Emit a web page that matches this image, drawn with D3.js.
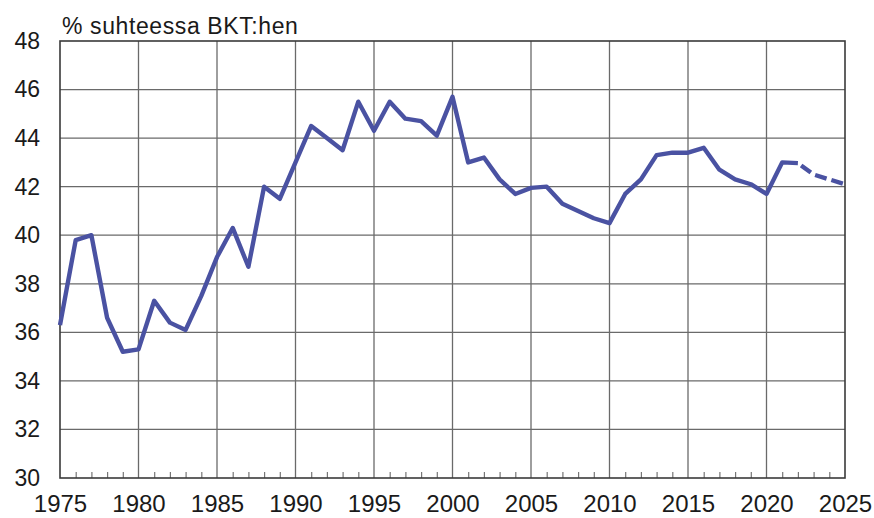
<!DOCTYPE html>
<html><head><meta charset="utf-8">
<script src="https://cdn.jsdelivr.net/npm/d3@7"></script>
<style>body{margin:0;background:#fff}svg{display:block}text{font-family:"Liberation Sans",Arial,sans-serif;fill:#1a1a1a}</style>
</head><body><svg id="c" width="874" height="518"></svg>
<script>
const years = d3.range(1975, 2026);
const values = [36.3,39.8,40.0,36.6,35.2,35.3,37.3,36.4,36.1,37.5,
  39.1,40.3,38.7,42.0,41.5,43.0,44.5,44.0,43.5,45.5,
  44.3,45.5,44.8,44.7,44.1,45.7,43.0,43.2,42.3,41.7,
  41.95,42.0,41.3,41.0,40.7,40.5,41.7,42.3,43.3,43.4,
  43.4,43.6,42.7,42.3,42.1,41.7,43.0,42.97,42.5,42.3,42.1];
const forecastStart = 2022;
const yTicks = [30,32,34,36,38,40,42,44,46,48];
const xTicks = [1975,1980,1985,1990,1995,2000,2005,2010,2015,2020,2025];
const title = "% suhteessa BKT:hen";

const data = years.map((y,i)=>({year:y, v:values[i]}));
const m = {l:60, r:845, t:41, b:478};
const svg = d3.select("#c");
const x = d3.scaleLinear().domain([1975,2025]).range([m.l,m.r]);
const y = d3.scaleLinear().domain([30,48]).range([m.b,m.t]);

// gridlines
svg.append("g").selectAll("line").data(yTicks.slice(1,-1)).join("line")
  .attr("x1",m.l).attr("x2",m.r).attr("y1",d=>y(d)).attr("y2",d=>y(d))
  .attr("stroke","#6a6a6a").attr("stroke-width",1.3);
svg.append("g").selectAll("line").data(xTicks.slice(1,-1)).join("line")
  .attr("y1",m.t).attr("y2",m.b).attr("x1",d=>x(d)).attr("x2",d=>x(d))
  .attr("stroke","#6a6a6a").attr("stroke-width",1.3);

// minor ticks along bottom
const minor = years.filter(d=>d%5!==0);
const xMinor = d3.axisBottom(x).tickValues(minor).tickSize(-6).tickFormat("");
svg.append("g").attr("transform",`translate(0,${m.b})`).call(xMinor)
  .call(g=>g.select(".domain").remove())
  .call(g=>g.selectAll("line").attr("stroke","#777").attr("stroke-width",1.2));

// frame
svg.append("rect").attr("x",m.l).attr("y",m.t).attr("width",m.r-m.l).attr("height",m.b-m.t)
  .attr("fill","none").attr("stroke","#3a3a3a").attr("stroke-width",1.6);

// axes labels
const yAxis = d3.axisLeft(y).tickValues(yTicks).tickSize(0).tickPadding(20);
svg.append("g").attr("transform",`translate(${m.l},0)`).call(yAxis)
  .call(g=>g.select(".domain").remove())
  .call(g=>g.selectAll("text").attr("font-size",23).attr("font-family","Liberation Sans, Arial, sans-serif").attr("fill","#1a1a1a"));
const xAxis = d3.axisBottom(x).tickValues(xTicks).tickSize(0).tickPadding(17).tickFormat(d3.format("d"));
svg.append("g").attr("transform",`translate(0,${m.b})`).call(xAxis)
  .call(g=>g.select(".domain").remove())
  .call(g=>g.selectAll("text").attr("font-size",24).attr("font-family","Liberation Sans, Arial, sans-serif").attr("fill","#1a1a1a"));

// title
svg.append("text").attr("x",62).attr("y",34).attr("font-size",23).attr("letter-spacing",0.6).text(title);

// line
const line = d3.line().x(d=>x(d.year)).y(d=>y(d.v));
const col = "#4a52a2";
svg.append("path").datum(data.filter(d=>d.year<=forecastStart)).attr("d",line)
  .attr("fill","none").attr("stroke",col).attr("stroke-width",4.4).attr("stroke-linejoin","round");
svg.append("path").datum(data.filter(d=>d.year>=forecastStart)).attr("d",line)
  .attr("fill","none").attr("stroke",col).attr("stroke-width",4.4).attr("stroke-dasharray","12,5").attr("stroke-dashoffset",-4);
</script></body></html>
